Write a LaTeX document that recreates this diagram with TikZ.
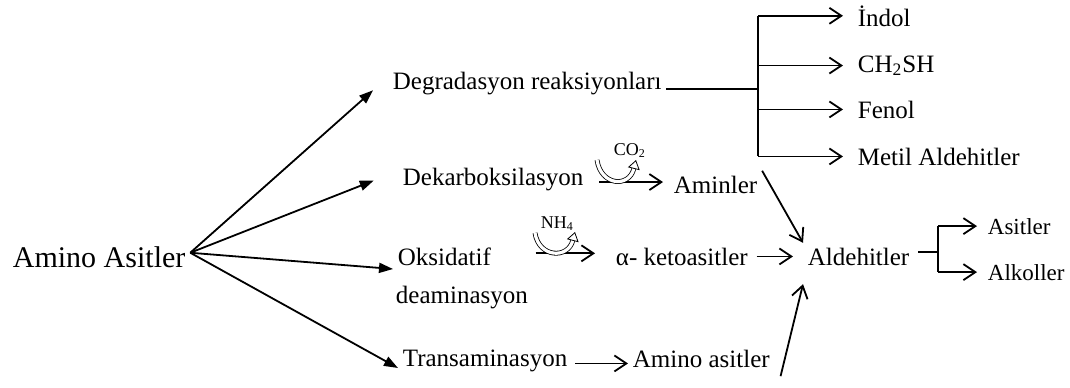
\documentclass[tikz,border=0pt]{standalone}
\usepackage{fontspec}
\setmainfont{Liberation Serif}
\usetikzlibrary{arrows.meta}

\begin{document}
\begin{tikzpicture}[x=0.5pt,y=-0.5pt,line width=0.9pt,
        every node/.style={inner sep=2pt,anchor=base west,font=\fontsize{12.5}{15}\selectfont},
        big/.style={font=\fontsize{15}{18}\selectfont},
        small/.style={font=\fontsize{11.5}{13}\selectfont},
        tiny/.style={font=\fontsize{9}{11}\selectfont},
        fan/.style={-{Triangle[length=7pt,width=5pt]}},
        br/.style={-{Straight Barb[length=6pt,width=8pt]}},
        curl/.style={double,line width=0.4pt,double distance=1.6pt,
            -{Triangle[open,length=4.5pt,width=6pt]}}]
        \useasboundingbox (0,0) rectangle (1070,387);
        % Place the texts
        \node[big] (amino) at (8,267) {Amino Asitler};
        \node (degr) at (388,89) {Degradasyon reaksiyonları};
        \node (dekarb) at (398,185) {Dekarboksilasyon};
        \node (oksA) at (393,265) {Oksidatif};
        \node (oksB) at (391,303) {deaminasyon};
        \node (trans) at (398,366) {Transaminasyon};
        \node (aminler) at (669,193) {Aminler};
        \node (keto) at (611,265) {α- ketoasitler};
        \node (aminoas) at (628,367) {Amino asitler};
        \node (ald) at (803,265) {Aldehitler};
        \node (indol) at (853,26) {İndol};
        \node (ch) at (853,72) {CH\textsubscript{2}SH};
        \node (fenol) at (853,118) {Fenol};
        \node (metil) at (853,165) {Metil Aldehitler};
        \node[small] (asit) at (983,234) {Asitler};
        \node[small] (alkol) at (983,280) {Alkoller};
        \node[tiny] (co2) at (609,155) {CO\textsubscript{2}};
        \node[tiny] (nh4) at (536,228) {NH\textsubscript{4}};
        % Fan out of the amino acids
        \draw[fan, shorten >=10pt] ([yshift=2pt]amino.east) -- ([yshift=6pt]degr.base west);
        \draw[fan, shorten >=13pt] ([yshift=2pt]amino.east) -- ([yshift=7pt]dekarb.base west);
        \draw[fan] ([yshift=2pt]amino.east) -- ([yshift=-2pt]oksA.base west);
        \draw[fan] ([yshift=2pt]amino.east) -- ([yshift=-1pt]trans.base west);
        % Degradation products
        \coordinate (dsplit) at (758,89);
        \draw (degr.base east) -- (dsplit);
        \draw (dsplit |- indol.west) -- (dsplit |- metil.west);
        \foreach \n in {indol,ch,fenol,metil}
            \draw[br, shorten >=5pt] (dsplit |- \n.west) -- (\n.west);
        % Reactions with CO2 and NH4 given off
        \path ([yshift=-1.5pt]dekarb.east) coordinate (dk);
        \draw[br, shorten <=5.5pt, shorten >=3pt] (dk) -- (dk -| aminler.west);
        \draw[curl] (597,160) .. controls (601,186) and (629,188) .. (636,160);
        \path ([yshift=1.5pt]oksA.east) coordinate (ok);
        \draw[br, shorten <=1.5pt, shorten >=8pt] (oksB.east |- ok) -- (ok -| keto.west);
        \draw[curl] (535,233) .. controls (539,258) and (568,259) .. (575,232);
        \path ([yshift=-1.5pt]trans.east) coordinate (tr);
        \draw[br, shorten <=1.5pt] (tr) -- (tr -| aminoas.west);
        % Everything goes to the aldehydes
        \draw[br] (aminler.north east) -- (ald.north west);
        \draw[br, shorten <=2pt, shorten >=5pt] (keto.east) -- (ald.west);
        \draw[br] ([xshift=3pt,yshift=-2pt]aminoas.south east) -- ([yshift=-7pt]ald.south west);
        % Acids and alcohols
        \coordinate (asplit) at (938,252);
        \draw[shorten <=2pt] (ald.east |- asplit) -- (asplit);
        \draw (asplit |- asit.west) -- (asplit |- alkol.west);
        \foreach \n in {asit,alkol}
            \draw[br, shorten >=3pt] (asplit |- \n.west) -- (\n.west);
    \end{tikzpicture}
\end{document}
